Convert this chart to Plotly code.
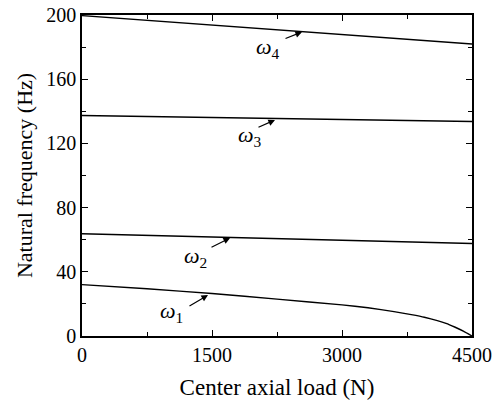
import plotly.graph_objects as go

load = [0, 750, 1500, 2250, 3000, 3300, 3600, 3800, 3950, 4100, 4200, 4300, 4400, 4500]
omega1 = [32.0, 29.4, 26.5, 23.0, 19.4, 17.6, 15.2, 13.3, 11.7, 9.6, 7.9, 5.6, 3.0, 0.0]
load2 = [0, 1500, 3000, 4500]
omega2 = [63.7, 61.8, 59.8, 57.6]
omega3 = [137.4, 136.2, 135.0, 133.6]
omega4 = [199.6, 193.8, 188.0, 181.9]

labels = ["<i>ω</i><sub>1</sub>", "<i>ω</i><sub>2</sub>", "<i>ω</i><sub>3</sub>", "<i>ω</i><sub>4</sub>"]
label_x = [1038, 1315, 1938, 2146]
label_y = [15.0, 49.2, 124.6, 179.4]
arrow_tail_x = [1223, 1477, 2019, 2331]
arrow_tail_y = [18.1, 54.8, 129.6, 185.0]
arrow_head_x = [1454, 1708, 2227, 2538]
arrow_head_y = [25.5, 61.1, 134.6, 189.4]

FONT = "Liberation Serif, Times New Roman, serif"
fig = go.Figure()
line = dict(color="black", width=1.4)
fig.add_trace(go.Scatter(x=load, y=omega1, mode="lines", line=dict(line, shape="spline", smoothing=0.3)))
fig.add_trace(go.Scatter(x=load2, y=omega2, mode="lines", line=line))
fig.add_trace(go.Scatter(x=load2, y=omega3, mode="lines", line=line))
fig.add_trace(go.Scatter(x=load2, y=omega4, mode="lines", line=line))

for i in range(4):
    fig.add_annotation(x=label_x[i], y=label_y[i], text=labels[i], showarrow=False,
                       font=dict(family=FONT, size=22, color="black"))
    fig.add_annotation(x=arrow_head_x[i], y=arrow_head_y[i], ax=arrow_tail_x[i], ay=arrow_tail_y[i],
                       axref="x", ayref="y", xref="x", yref="y", text="", showarrow=True,
                       arrowhead=2, arrowsize=1.1, arrowwidth=1.2, arrowcolor="black")

axis_common = dict(showline=True, linecolor="black", linewidth=1.5, mirror="allticks",
                   ticks="inside", ticklen=6, tickwidth=1.3, tickcolor="black",
                   showgrid=False, zeroline=False, automargin=False,
                   tickfont=dict(family=FONT, size=20, color="black"))
fig.update_xaxes(axis_common, range=[0, 4500], tickvals=[0, 1500, 3000, 4500],
                 minor=dict(ticks="inside", ticklen=4, tickwidth=1.2, tickcolor="black", dtick=750, tick0=0, showgrid=False),
                 title=dict(text="Center axial load (N)", font=dict(family=FONT, size=23, color="black"), standoff=14))
fig.update_yaxes(axis_common, range=[0, 200], tickvals=[0, 40, 80, 120, 160, 200],
                 minor=dict(ticks="inside", ticklen=4, tickwidth=1.2, tickcolor="black", dtick=20, tick0=0, showgrid=False),
                 title=dict(text="Natural frequency (Hz)", font=dict(family=FONT, size=22, color="black"), standoff=8))
fig.update_layout(width=496, height=403, margin=dict(l=82, r=24, t=15, b=67),
                  paper_bgcolor="white", plot_bgcolor="white", showlegend=False)
fig.write_html("out.html", config={"displayModeBar": False},
               post_script="document.body.style.margin='0';document.body.style.overflow='hidden';")
